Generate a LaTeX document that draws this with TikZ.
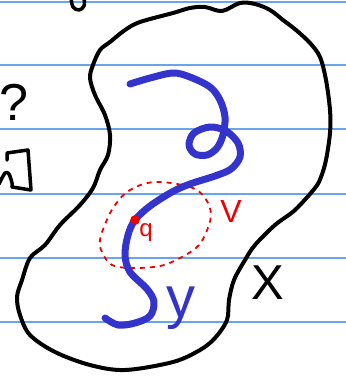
\documentclass[tikz,border=0pt]{standalone}
\usepackage{fontspec}
\newfontfamily\hand{Liberation Sans}
\definecolor{ruled}{RGB}{105,165,235}
\definecolor{curveblue}{RGB}{52,52,204}
\definecolor{redmark}{RGB}{240,0,0}
\tikzset{
  ruleline/.style={ruled, line width=2pt},
  outline/.style={black, line width=4pt, line cap=round, line join=round},
  curve/.style={curveblue, line width=7pt, line cap=round, line join=round},
  nbhd/.style={redmark, line width=1.8pt, dash pattern=on 5pt off 5pt},
  scrib/.style={black, line width=3.5pt, line cap=round, line join=round},
  lbl/.style={inner sep=0pt, font=\hand}
}
\begin{document}
\begin{tikzpicture}[x=1pt,y=-1pt]
\useasboundingbox (0,0) rectangle (346,376);
\clip (0,0) rectangle (346,376);
\fill[white] (0,0) rectangle (346,376);
% ruled lines
\foreach \yy in {2,65,129,194,258,322} \draw[ruleline] (0,\yy) -- (346,\yy);
% scribbles at left/top
\draw[scrib] plot[smooth, tension=0.6] coordinates {(71,-2) (73,7) (79,10) (84,6) (84,-2)};
\draw[scrib] plot[smooth, tension=0.5] coordinates {(-1,184) (5,173) (9,174) (12,183) (12,187)};
\draw[scrib] (7,160) -- (7,153) -- (28,150) -- (31,190) -- (12,187);
\node[lbl, font=\hand\fontsize{52}{52}\selectfont] (qm) at (14,102) {?};
% space X
\draw[outline] plot[smooth cycle, tension=0.55] coordinates {
 (173,13) (190,8) (205,7) (222,11) (240,3) (255,4) (270,10) (283,20) (296,30)
 (310,43) (320,57) (326,80) (330,110) (330,133) (326,160) (321,177) (315,188)
 (295,210) (275,225) (255,245) (245,260) (234,280) (229,300) (227,320) (215,338)
 (200,350) (173,362) (125,370) (90,365) (55,352) (30,335) (20,315) (17,297)
 (22,280) (30,258) (45,245) (60,225) (80,205) (93,188) (100,170) (108,155)
 (110,135) (105,115) (95,95) (90,78) (93,65) (100,50) (110,42) (125,30) (140,22)};
% neighbourhood V
\draw[nbhd] plot[smooth cycle, tension=0.6] coordinates {
 (155,182) (190,187) (205,198) (211,215) (205,235) (196,248) (178,259)
 (160,266) (133,268) (112,265) (102,252) (100,240) (106,222) (115,205) (130,190)};
% curve Y
\draw[curve] plot[smooth, tension=0.55] coordinates {
 (130,84) (150,78) (173,73) (190,77) (210,87) (220,100) (225,117) (223,135)
 (217,148) (207,155) (195,154) (189,145) (194,133) (210,127) (226,131)
 (238,143) (240,157) (231,169) (215,176) (190,184) (172,192) (150,206)
 (135,220) (128,235) (125,255) (130,272) (147,289) (154,302) (150,316)
 (135,323) (118,325) (105,318)};
% point q
\fill[redmark] (135,220) circle (4.8pt);
\coordinate (q) at (135,220);
\node[lbl, redmark, font=\hand\fontsize{24}{24}\selectfont] (ql) at (146,233) {q};
\node[lbl, redmark, font=\hand\fontsize{32}{32}\selectfont] (vl) at (231,211) {V};
\node[lbl, curveblue, font=\hand\fontsize{58}{58}\selectfont] (yl) at (181,308) {y};
\node[lbl, black, font=\hand\fontsize{49}{49}\selectfont] (xl) at (268,283) {X};
\end{tikzpicture}
\end{document}
